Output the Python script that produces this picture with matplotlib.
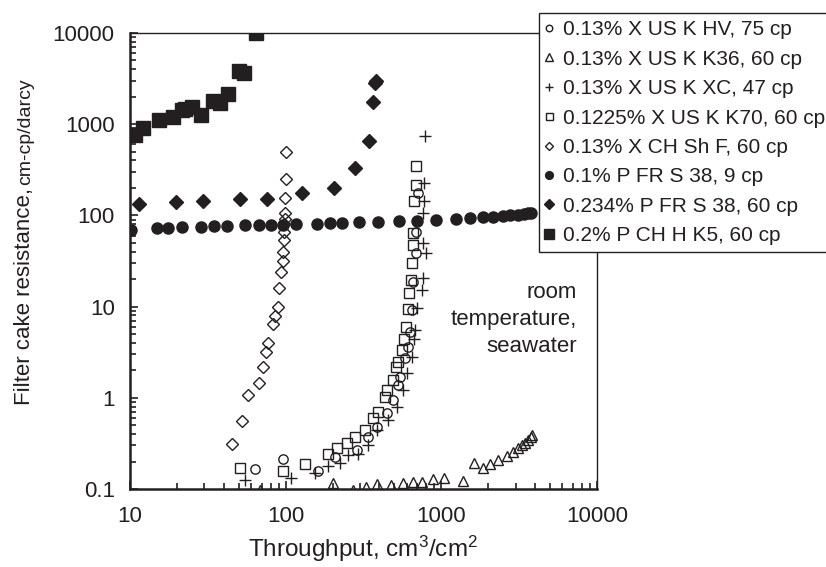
"""plot.py
filter cake resistance vs throughput, log-log scatter
"""
import matplotlib
matplotlib.use('Agg')
import matplotlib.pyplot as plt
from matplotlib.ticker import LogLocator, NullFormatter

plt.rcParams['font.family'] = ['Liberation Sans', 'DejaVu Sans']
plt.rcParams['mathtext.fontset'] = 'custom'
plt.rcParams['mathtext.rm'] = 'Liberation Sans'
plt.rcParams['mathtext.it'] = 'Liberation Sans'

INK = '#231f20'

# ======= Data (throughput cm3/cm2, resistance cm-cp/darcy) ========
hv_x = [64, 96, 162, 207, 288, 339, 384, 450, 491, 524, 542, 584, 608, 628,
        650, 661, 687, 692, 711]
hv_y = [0.166, 0.213, 0.157, 0.226, 0.268, 0.374, 0.482, 0.676, 0.946, 1.38,
        1.70, 2.71, 3.63, 5.31, 9.18, 18.8, 38.4, 66, 175]

k36_x = [68, 200, 270, 327, 387, 472, 567, 658, 747, 890, 1047, 1383, 1620,
         1860, 2052, 2300, 2627, 2897, 3120, 3280, 3445, 3615, 3750, 3800]
k36_y = [0.0975, 0.116, 0.0975, 0.106, 0.1135, 0.112, 0.115, 0.118, 0.118,
         0.128, 0.132, 0.122, 0.191, 0.169, 0.188, 0.208, 0.232, 0.256, 0.279,
         0.304, 0.322, 0.345, 0.374, 0.390]

xc_x = [55, 108, 154, 188, 223, 252, 292, 339, 384, 456, 516, 569, 599, 644,
        670, 676, 700, 747, 759, 796, 765, 759, 778, 778, 785]
xc_y = [0.125, 0.131, 0.149, 0.179, 0.191, 0.236, 0.242, 0.304, 0.444, 0.571,
        0.80, 1.22, 1.86, 2.82, 4.38, 5.54, 9.58, 15.2, 20.4, 38.4, 49.4, 105,
        144, 228, 743]

k70_x = [51, 96, 133, 188, 214, 249, 279, 323, 362, 393, 434, 450, 491, 511,
         528, 556, 575, 590, 608, 622, 635, 650, 661, 661, 670, 687, 687]
k70_y = [0.169, 0.157, 0.187, 0.240, 0.279, 0.317, 0.374, 0.444, 0.605, 0.693,
         1.03, 1.22, 1.57, 2.19, 2.49, 3.34, 4.38, 6.02, 9.34, 14.0, 19.6, 29.8,
         47.4, 63.7, 144, 215, 348]

shf_x = [45, 52.6, 57.5, 67.7, 71.8, 74.4, 77.3, 82.6, 85.4, 89.6, 91.0, 92.9,
         95.7, 95.7, 97.5, 97.5, 98, 98.5, 98.9, 98.9, 100.4, 100.4]
shf_y = [0.309, 0.557, 1.07, 1.46, 2.16, 3.2, 3.96, 6.45, 7.95, 9.8, 16.1, 23.8,
         31.8, 40, 53.7, 66.2, 80, 92, 107, 154, 250, 500]

s38a_x = [10.15, 14.9, 17.5, 21.5, 28.4, 34.8, 41.7, 54.8, 67.3, 80.1, 96.6,
          117, 159, 194, 231, 294, 392, 538, 697, 927, 1250, 1530, 1850, 2150,
          2490, 2765, 3110, 3400, 3610, 3780]
s38a_y = [70, 72, 73, 74, 75, 76, 77, 78, 78, 79, 79, 80, 81, 82, 83, 84, 85,
          86, 87, 89, 91, 93, 95, 96, 98, 100, 101, 103, 105, 107]

s38b_x = [11.4, 19.7, 29.6, 50.9, 76.2, 127, 205, 279, 343, 365, 375, 380]
s38b_y = [133, 141, 144, 150, 150, 178, 200, 328, 659, 1766, 2851, 3000]

k5_x = [10.8, 12.1, 15.4, 19.0, 21.5, 22.6, 25.1, 28.6, 34.0, 37.8, 42.4, 50.1,
        54.2, 64.2]
k5_y = [762, 902, 1112, 1208, 1432, 1456, 1555, 1262, 1782, 1722, 2128, 3864,
        3614, 10000]

labels = ['0.13% X US K HV, 75 cp', '0.13% X US K K36, 60 cp',
          '0.13% X US K XC, 47 cp', '0.1225% X US K K70, 60 cp',
          '0.13% X CH Sh F, 60 cp', '0.1% P FR S 38, 9 cp',
          '0.234% P FR S 38, 60 cp', '0.2% P CH H K5, 60 cp']

yticks = [0.1, 1, 10, 100, 1000, 10000]
xticks = [10, 100, 1000, 10000]


def main():
    fig = plt.figure(figsize=(8.26, 5.67), dpi=100)
    ax = fig.add_axes([130 / 826, 78 / 567, 467 / 826, 456 / 567])

    ax.plot(hv_x, hv_y, 'o', ms=6.7, mfc='none', mec=INK, mew=1.0,
            label=labels[0])
    ax.plot(k36_x, k36_y, '^', ms=7.5, mfc='none', mec=INK, mew=1.0,
            label=labels[1])
    ax.plot(xc_x, xc_y, '+', ms=9, mec=INK, mew=1.0, label=labels[2])
    ax.plot(k70_x, k70_y, 's', ms=7.2, mfc='none', mec=INK, mew=1.0,
            label=labels[3])
    ax.plot(shf_x, shf_y, 'D', ms=6, mfc='none', mec=INK, mew=1.0,
            label=labels[4])
    ax.plot(s38a_x, s38a_y, 'o', ms=8, mfc=INK, mec=INK, label=labels[5])
    ax.plot(s38b_x, s38b_y, 'D', ms=7, mfc=INK, mec=INK, label=labels[6])
    ax.plot(k5_x, k5_y, 's', ms=9.4, mfc=INK, mec=INK, label=labels[7])

    ax.set_xscale('log')
    ax.set_yscale('log')
    ax.set_xlim(10, 10000)
    ax.set_ylim(0.1, 10000)
    ax.set_xticks(xticks)
    ax.set_xticklabels([str(v) for v in xticks])
    ax.set_yticks(yticks)
    ax.set_yticklabels(['%g' % v for v in yticks])
    ax.xaxis.set_minor_locator(LogLocator(base=10, subs=range(2, 10)))
    ax.yaxis.set_minor_locator(LogLocator(base=10, subs=range(2, 10)))
    ax.xaxis.set_minor_formatter(NullFormatter())
    ax.yaxis.set_minor_formatter(NullFormatter())
    ax.tick_params(which='both', direction='in', top=False, right=False,
                   colors=INK, labelcolor=INK, labelsize=16, width=1.2)
    ax.tick_params(which='major', length=6)
    ax.tick_params(which='minor', length=4)
    ax.tick_params(axis='y', which='major', pad=11)
    ax.tick_params(axis='x', which='major', pad=12)
    for side in ['left', 'bottom']:
        ax.spines[side].set_linewidth(1.8)
    for side in ['top', 'right']:
        ax.spines[side].set_linewidth(1.0)
    for sp in ax.spines.values():
        sp.set_color(INK)

    ax.set_xlabel('Throughput, cm$^3$/cm$^2$', fontsize=17.5, color=INK,
                  labelpad=5)

    fig.text(30 / 826, 1 - 405 / 567, 'Filter cake resistance,', rotation=90,
             rotation_mode='anchor', ha='left', va='baseline', fontsize=16,
             color=INK)
    fig.text(30 / 826, 1 - 185 / 567, 'cm-cp/darcy', rotation=90,
             rotation_mode='anchor', ha='left', va='baseline', fontsize=14,
             color=INK)

    ax.text(0.957, 0.372, 'room\ntemperature,\nseawater', transform=ax.transAxes,
            ha='right', va='center', fontsize=16, color=INK, linespacing=1.37)

    leg = fig.legend(loc='upper left', bbox_to_anchor=(539 / 826, 1 - 13 / 567),
                     frameon=True, fancybox=False, edgecolor=INK, framealpha=1,
                     fontsize=15, handlelength=0.3, handletextpad=0.5,
                     labelspacing=0.5, borderpad=0.35, borderaxespad=0,
                     markerscale=0.7)
    leg.get_frame().set_linewidth(1.0)
    for t in leg.get_texts():
        t.set_color(INK)

    fig.savefig('out.png', dpi=100)


if __name__ == "__main__":
    main()
